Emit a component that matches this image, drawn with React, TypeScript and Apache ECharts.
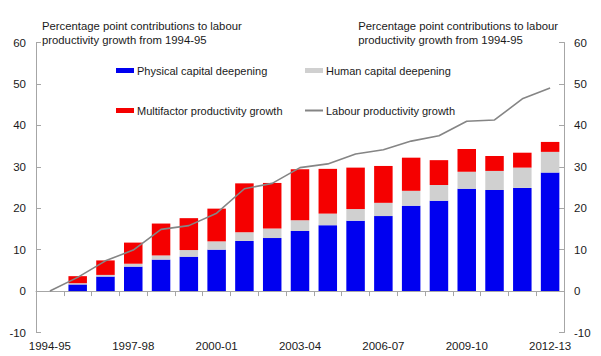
import React, { useEffect, useRef } from "react";
import * as echarts from "echarts";

const categories = [
  "1994-95", "1995-96", "1996-97", "1997-98", "1998-99", "1999-00", "2000-01",
  "2001-02", "2002-03", "2003-04", "2004-05", "2005-06", "2006-07", "2007-08",
  "2008-09", "2009-10", "2010-11", "2011-12", "2012-13",
];
const physical = ["-", 1.6, 3.5, 5.9, 7.6, 8.3, 10.0, 12.1, 12.8, 14.5, 15.9, 17.0, 18.1, 20.6, 21.8, 24.7, 24.4, 24.9, 28.6];
const human = ["-", 0.3, 0.4, 0.7, 1.0, 1.6, 2.0, 2.1, 2.3, 2.6, 2.8, 2.8, 3.2, 3.6, 3.8, 4.1, 4.6, 4.9, 5.0];
const multifactor = ["-", 1.7, 3.5, 5.1, 7.7, 7.7, 7.9, 11.8, 11.0, 12.3, 10.8, 10.0, 8.9, 8.0, 6.0, 5.5, 3.6, 3.6, 2.4];
const labour = [0, 3.3, 7.3, 9.9, 14.9, 15.8, 18.8, 24.7, 26.0, 29.8, 30.7, 33.1, 34.1, 36.2, 37.5, 41.0, 41.3, 46.4, 49.0];

const FONT = "'Liberation Sans', Arial, sans-serif";
const TXT = "#1a1a1a";
const AX = "#a6a6a6";

export default function App() {
  const ref = useRef<HTMLDivElement>(null);
  useEffect(() => {
    if (!ref.current) return;
    document.body.style.margin = "0";
    const chart = echarts.init(ref.current, undefined, { renderer: "svg" });
    const legendBase = {
      orient: "horizontal",
      padding: 0,
      itemWidth: 18,
      itemHeight: 5,
      itemGap: 0,
      selectedMode: false,
      textStyle: { fontFamily: FONT, fontSize: 11, color: TXT, padding: [0, 0, 0, -2] },
    };
    const yBase = {
      type: "value",
      min: -10,
      max: 60,
      interval: 10,
      splitLine: { show: false },
      axisLine: { show: true, lineStyle: { color: AX, width: 1 } },
      axisTick: { show: true, inside: true, length: 5, lineStyle: { color: AX } },
      axisLabel: { fontFamily: FONT, fontSize: 11.5, color: TXT, margin: 10 },
    };
    chart.setOption({
      animation: false,
      textStyle: { fontFamily: FONT },
      grid: { left: 36, right: 37, top: 42.5, bottom: 23.5, containLabel: false, outerBoundsMode: "none" },
      legend: [
        { ...legendBase, left: 116, top: 65, data: [{ name: "Physical capital deepening", icon: "rect" }] },
        { ...legendBase, left: 305, top: 65, data: [{ name: "Human capital deepening", icon: "rect" }] },
        { ...legendBase, left: 116, top: 105, data: [{ name: "Multifactor productivity growth", icon: "rect" }] },
        { ...legendBase, left: 305, top: 105, itemHeight: 2, data: [{ name: "Labour productivity growth", icon: "rect" }] },
      ],
      xAxis: [
        {
          type: "category",
          data: categories,
          boundaryGap: true,
          axisLine: { onZero: true, lineStyle: { color: AX, width: 1 } },
          axisTick: { show: true, interval: 0, length: 5, lineStyle: { color: AX } },
          axisLabel: { show: false },
        },
        {
          type: "category",
          data: categories,
          position: "bottom",
          boundaryGap: true,
          axisLine: { show: false, onZero: false },
          axisTick: { show: false },
          axisLabel: { interval: 2, fontFamily: FONT, fontSize: 11.5, color: TXT, margin: 7 },
        },
      ],
      yAxis: [
        { ...yBase, position: "left" },
        { ...yBase, position: "right" },
      ],
      graphic: [
        {
          type: "text",
          left: 42,
          top: 19,
          style: {
            text: "Percentage point contributions to labour\nproductivity growth from 1994-95",
            font: `11.3px ${FONT}`,
            fill: TXT,
            lineHeight: 14,
            align: "left",
          },
        },
        {
          type: "text",
          right: 43,
          top: 19,
          style: {
            text: "Percentage point contributions to labour\nproductivity growth from 1994-95",
            font: `11.3px ${FONT}`,
            fill: TXT,
            lineHeight: 14,
            align: "right",
          },
        },
      ],
      series: [
        {
          name: "Physical capital deepening",
          type: "bar",
          stack: "c",
          barWidth: 18.5,
          data: physical,
          itemStyle: { color: "#0000f0" },
        },
        {
          name: "Human capital deepening",
          type: "bar",
          stack: "c",
          barWidth: 18.5,
          data: human,
          itemStyle: { color: "#d0d0d0" },
        },
        {
          name: "Multifactor productivity growth",
          type: "bar",
          stack: "c",
          barWidth: 18.5,
          data: multifactor,
          itemStyle: { color: "#f50000" },
        },
        {
          name: "Labour productivity growth",
          type: "line",
          data: labour,
          symbol: "none",
          showSymbol: false,
          z: 5,
          itemStyle: { color: "#858585" },
          lineStyle: { color: "#858585", width: 1.6 },
        },
      ],
    });
    return () => chart.dispose();
  }, []);
  return <div ref={ref} style={{ width: 601, height: 356 }} />;
}
